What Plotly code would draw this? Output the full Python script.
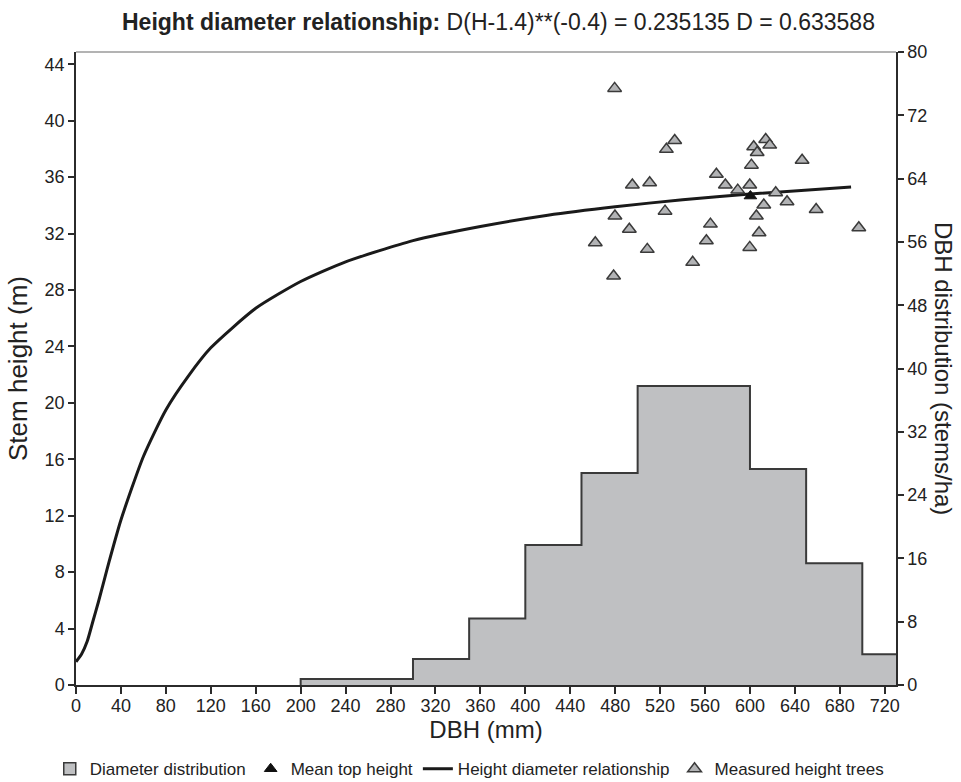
import plotly.graph_objects as go
from plotly.subplots import make_subplots

# Diameter distribution (stems/ha), bin edges in mm
bin_edges = [200, 300, 350, 400, 450, 500, 600, 650, 700, 730]
stems_per_ha = [0.75, 3.3, 8.4, 17.7, 26.8, 37.8, 27.3, 15.4, 3.9]

# Height-diameter relationship curve
curve_dbh = [0, 5, 10, 15, 20, 25, 30, 40, 60, 80, 100, 120, 160, 200, 240,
             300, 360, 420, 480, 540, 600, 690]
curve_h = [1.65, 2.2, 3.1, 4.5, 5.9, 7.4, 8.9, 11.7, 16.2, 19.5, 21.9, 23.9,
           26.7, 28.6, 30.0, 31.5, 32.5, 33.3, 33.9, 34.4, 34.8, 35.3]

# Measured height trees
meas_dbh = [479.5, 533, 525.6, 495.3, 510.7, 570.1, 578.1, 479.8, 524.4, 492.6,
            564.8, 462.3, 508.6, 561.2, 549, 478.6, 614, 617.6, 603.3, 606.4,
            646.4, 601.3, 599.8, 589.1, 622.9, 633, 612.3, 658.9, 605.7, 608.1,
            696.9, 599.8]
meas_h = [42.29, 38.6, 37.97, 35.44, 35.6, 36.2, 35.44, 33.24, 33.59, 32.3,
          32.67, 31.35, 30.88, 31.49, 29.96, 28.99, 38.67, 38.27, 38.15, 37.75,
          37.2, 36.85, 35.44, 35.08, 34.89, 34.25, 34.02, 33.71, 33.24, 32.06,
          32.41, 31.02]

# Mean top height
mean_dbh = [600.4]
mean_h = [34.66]

x_ticks = list(range(0, 721, 40))
left_ticks = list(range(0, 45, 4))
right_ticks = list(range(0, 81, 8))

FONT = "Liberation Sans, Arial, sans-serif"
DARK = "#2b2b2b"

fig = make_subplots(specs=[[{"secondary_y": True}]])

# histogram outline/fill as step area
hx = [bin_edges[0]] + bin_edges
hy = [0] + stems_per_ha + [stems_per_ha[-1]]
fig.add_trace(go.Scatter(x=hx, y=hy, mode="lines", line=dict(shape="hv", color="#3a3a3a", width=2),
                         fill="tozeroy", fillcolor="#bfc0c2", showlegend=False, hoverinfo="skip"),
              secondary_y=True)
# legend entry for histogram
fig.add_trace(go.Bar(x=[None], y=[None], name="Diameter distribution", legendrank=1,
                     marker=dict(color="#bfc0c2", line=dict(color="#3a3a3a", width=1.5))),
              secondary_y=True)

fig.add_trace(go.Scatter(x=curve_dbh, y=curve_h, mode="lines", name="Height diameter relationship",
                         legendrank=3,
                         line=dict(color="#1a1a1a", width=3, shape="spline", smoothing=0.6)),
              secondary_y=False)

fig.add_trace(go.Scatter(x=meas_dbh, y=meas_h, mode="markers", name="Measured height trees",
                         legendrank=4,
                         marker=dict(symbol="triangle-up", size=12, color="#b2b3b5",
                                     line=dict(color="#3a3a3a", width=1.5))),
              secondary_y=False)

fig.add_trace(go.Scatter(x=mean_dbh, y=mean_h, mode="markers", name="Mean top height",
                         legendrank=2,
                         marker=dict(symbol="triangle-up", size=11, color="#111111",
                                     line=dict(color="#111111", width=1))),
              secondary_y=False)

fig.update_layout(
    width=961, height=782,
    margin=dict(l=76, r=65, t=52, b=97, autoexpand=False),
    plot_bgcolor="white", paper_bgcolor="white",
    font=dict(family=FONT, size=18, color="#222222"),
    showlegend=True,
    legend=dict(orientation="h", x=-0.032, xanchor="left", y=-0.133, yanchor="middle",
                font=dict(size=17, color="#222222"), traceorder="normal",
                itemwidth=30, tracegroupgap=0, bgcolor="rgba(0,0,0,0)"),
    bargap=0,
)

fig.update_xaxes(domain=[0, 1], range=[0, 730], tickvals=x_ticks, ticks="outside", ticklen=7,
                 tickwidth=1.5, tickcolor=DARK, showline=True, linecolor=DARK, linewidth=1.5,
                 showgrid=False, zeroline=False, tickfont=dict(size=18), ticklabelstandoff=-3,
                 title=dict(text="DBH (mm)", font=dict(size=24), standoff=0))

fig.update_yaxes(range=[0, 44.87], tickvals=left_ticks, ticks="outside", ticklen=6, tickwidth=1.5,
                 tickcolor=DARK, showline=True, linecolor=DARK, linewidth=1.5, showgrid=False,
                 zeroline=False, tickfont=dict(size=18),
                 title=dict(text="Stem height (m)", font=dict(size=26), standoff=10),
                 secondary_y=False)

fig.update_yaxes(range=[0, 80], tickvals=right_ticks, ticks="outside", ticklen=6, tickwidth=1.5,
                 tickcolor=DARK, showline=True, linecolor=DARK, linewidth=1.5, showgrid=False,
                 zeroline=False, tickfont=dict(size=18), secondary_y=True)

# top border
fig.add_shape(type="line", xref="x domain", yref="y domain", x0=0, x1=1, y0=1, y1=1,
              line=dict(color="#9a9a9a", width=1.5))

fig.add_annotation(text="DBH distribution (stems/ha)", xref="paper", yref="paper",
                   x=1.058, y=0.50, xanchor="center", yanchor="middle", textangle=90,
                   showarrow=False, font=dict(size=24, color="#222222"))

fig.add_annotation(text="<b>Height diameter relationship:</b> D(H-1.4)**(-0.4) = 0.235135 D = 0.633588",
                   xref="paper", yref="paper", x=0.515, y=1.0, yshift=30, xanchor="center",
                   yanchor="middle", showarrow=False, font=dict(size=23, color="#222222"))

fig.write_html("out.html", config={"displayModeBar": False},
               post_script="document.body.style.margin='0px';")
